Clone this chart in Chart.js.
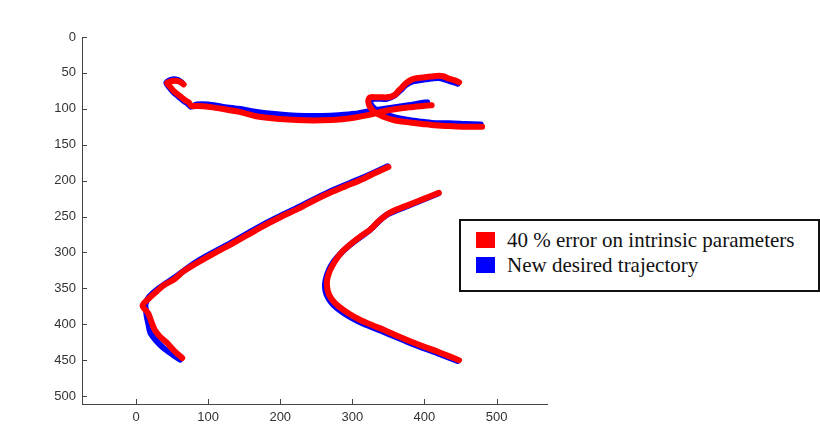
<!DOCTYPE html>
<html>
<head>
<meta charset="utf-8">
<script src="https://cdn.jsdelivr.net/npm/chart.js@4"></script>
<style>
  html, body { margin: 0; padding: 0; background: #fff; }
  #wrap { position: relative; width: 820px; height: 427px; }
  #legend {
    position: absolute; left: 459px; top: 219px; width: 361px; height: 73px;
    box-sizing: border-box; border: 2px solid #111; background: #fff;
    font-family: "Liberation Serif", "Times New Roman", serif; font-size: 21px; color: #111;
  }
  .sw { position: absolute; width: 19px; height: 16px; }
  .lbl { position: absolute; left: 46px; line-height: 22px; white-space: nowrap; }
</style>
</head>
<body>
<div id="wrap">
  <canvas id="c" width="820" height="427"></canvas>
  <div id="legend"></div>
</div>
<script>
// Trajectories in image coordinates (x right, y down), one array per stroke.
// Red: executed path with 40 % error on intrinsic parameters.
const redTopA = [[66,66],[60,62],[54,61],[47,62],[43,64],[47,69],[52,75],[58,80],[63,84],[68,88],[73,91],[77,96],[86,96],[100,97],[119,100],[142,104],[165,110],[188,113],[211,115],[235,116],[258,116],[281,115],[304,112],[325,108],[350,102],[378,98],[398,96],[410,95]];
const redTopB = [[448,63],[441,60],[434,58],[427,55],[420,54],[410,55],[401,56],[392,57],[383,59],[375,64],[369,70],[364,75],[360,80],[354,83],[348,84],[340,84],[334,84],[325,84],[322,89],[323,94],[325,98],[328,102],[332,105],[339,109],[346,112],[355,115],[364,117],[380,119],[397,121],[415,123],[434,124],[456,125],[480,125]];
const redLeft = [[350,181],[330,190],[314,198],[290,208],[269,217],[246,228],[223,240],[200,251],[177,263],[154,276],[131,289],[107,302],[84,315],[66,326],[52,338],[38,346],[29,354],[19,363],[9,374],[17,385],[21,396],[26,408],[33,417],[43,426],[53,437],[64,447]];
const redRight = [[420,217],[400,225],[380,233],[362,240],[348,247],[336,257],[325,268],[311,278],[297,289],[285,300],[276,312],[269,325],[265,338],[265,348],[267,357],[272,366],[281,375],[295,385],[311,394],[327,401],[344,408],[362,416],[381,424],[399,431],[418,438],[433,444],[448,450]];

// Blue: new desired trajectory.
const blueTopA = [[64,64],[58,60],[51,59],[45,61],[42,64],[46,70],[52,77],[59,83],[66,89],[72,93],[76,97],[84,94],[100,94],[119,97],[142,100],[165,104],[188,107],[211,109],[235,110],[258,110],[281,109],[304,107],[325,103],[350,99],[378,95],[396,92],[404,91]];
const blueTopB = [[446,65],[434,61],[420,57],[401,59],[383,62],[374,67],[369,72],[359,81],[348,86],[334,86],[326,87],[325,92],[328,97],[332,101],[339,105],[350,109],[364,113],[380,116],[397,118],[415,120],[434,120],[456,121],[478,122]];
const blueLeft = [[349,180],[314,196],[269,215],[223,238],[177,261],[131,287],[84,313],[52,336],[30,351],[18,362],[13,372],[14,382],[15,390],[17,399],[20,412],[29,424],[38,433],[52,443],[61,449]];
const blueRight = [[419,218],[380,234],[347,248],[324,269],[296,290],[274,313],[263,338],[264,358],[278,377],[308,396],[342,410],[380,426],[417,440],[446,451]];

const xTicks = [0, 100, 200, 300, 400, 500];
const yTicks = [0, 50, 100, 150, 200, 250, 300, 350, 400, 450, 500];

const seriesNames = ['40 % error on intrinsic parameters', 'New desired trajectory'];
const seriesColors = ['#ff0000', '#0000ff'];

const toPoints = arr => arr.map(p => ({ x: p[0], y: p[1] }));
const stroke = (arr, color, order) => ({
  data: toPoints(arr),
  showLine: true,
  borderColor: color,
  backgroundColor: color,
  borderWidth: 6,
  borderCapStyle: 'round',
  borderJoinStyle: 'round',
  pointRadius: 0,
  tension: 0.3,
  order: order
});

const datasets = [
  ...[redTopA, redTopB, redLeft, redRight].map(a => stroke(a, seriesColors[0], 0)),
  ...[blueTopA, blueTopB, blueLeft, blueRight].map(a => stroke(a, seriesColors[1], 1))
];

// Tick marks drawn inward from the axis lines.
const innerTicks = {
  id: 'innerTicks',
  afterDraw(chart) {
    const ctx = chart.ctx, a = chart.chartArea;
    const xs = chart.scales.x, ys = chart.scales.y;
    ctx.save();
    ctx.strokeStyle = '#444';
    ctx.lineWidth = 1;
    ctx.beginPath();
    xTicks.forEach(v => {
      const px = Math.round(xs.getPixelForValue(v)) + 0.5;
      ctx.moveTo(px, a.bottom); ctx.lineTo(px, a.bottom - 5);
    });
    yTicks.forEach(v => {
      const py = Math.round(ys.getPixelForValue(v)) + 0.5;
      ctx.moveTo(a.left, py); ctx.lineTo(a.left + 5, py);
    });
    ctx.stroke();
    ctx.restore();
  }
};

Chart.defaults.font.family = '"Liberation Sans", Arial, sans-serif';
Chart.defaults.font.size = 13;
Chart.defaults.color = '#333';

new Chart(document.getElementById('c'), {
  type: 'scatter',
  data: { datasets },
  options: {
    responsive: false,
    animation: false,
    devicePixelRatio: 1,
    layout: { padding: { left: 0, top: 37, right: 273, bottom: 0 } },
    plugins: { legend: { display: false }, tooltip: { enabled: false } },
    scales: {
      x: {
        type: 'linear', min: -75, max: 570,
        grid: { display: false, drawTicks: false },
        border: { display: true, color: '#444', width: 1 },
        ticks: { padding: 6, color: '#333' },
        afterBuildTicks(s) { s.ticks = xTicks.map(v => ({ value: v })); },
        afterFit(s) { s.height = 23; }
      },
      y: {
        type: 'linear', reverse: true, min: 0, max: 511,
        grid: { display: false, drawTicks: false },
        border: { display: true, color: '#444', width: 1 },
        ticks: { padding: 6, color: '#333' },
        afterBuildTicks(s) { s.ticks = yTicks.map(v => ({ value: v })); },
        afterFit(s) { s.width = 82; }
      }
    }
  },
  plugins: [innerTicks]
});

// Legend box
const legend = document.getElementById('legend');
seriesNames.forEach((name, i) => {
  const sw = document.createElement('div');
  sw.className = 'sw';
  sw.style.background = seriesColors[i];
  sw.style.left = '15px';
  sw.style.top = (11 + i * 25) + 'px';
  legend.appendChild(sw);
  const t = document.createElement('div');
  t.className = 'lbl';
  t.textContent = name;
  t.style.top = (8 + i * 25) + 'px';
  legend.appendChild(t);
});
</script>
</body>
</html>
